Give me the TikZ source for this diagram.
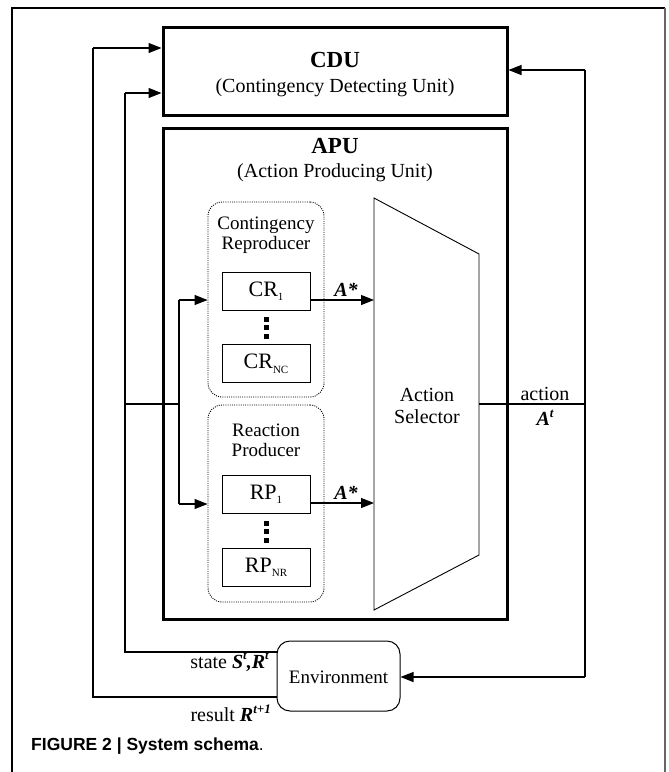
\documentclass[tikz,border=0pt]{standalone}
\usepackage{fontspec}
\setmainfont{Liberation Serif}
\newfontfamily\capfont{Liberation Sans}
\usetikzlibrary{arrows.meta}
\newcommand{\lowsub}[1]{\raisebox{-0.45ex}{\fontsize{11}{11}\selectfont #1}}
\newcommand{\bisup}[1]{\raisebox{0.9ex}{\fontsize{13}{13}\selectfont\bfseries\itshape #1}}
\newcommand{\bi}[1]{{\bfseries\itshape #1}}
\begin{document}
\begin{tikzpicture}[x=1pt,y=-1pt,
  txt/.style={font=\fontsize{20}{22}\selectfont, inner sep=0pt, align=center},
  ttl/.style={font=\fontsize{23}{24}\selectfont\bfseries, inner sep=0pt},
  unitbox/.style={draw, line width=3pt, inner sep=0pt},
  subbox/.style={draw, line width=1pt, inner sep=0pt, minimum width=88pt, minimum height=38pt, font=\fontsize{22}{22}\selectfont},
  groupbox/.style={draw, dash pattern=on 1pt off 1.2pt, line width=0.9pt, rounded corners=14pt, inner sep=0pt, minimum width=116pt},
  conn/.style={line width=1.1pt},
  arr/.style={line width=1.1pt, -{Triangle[length=13pt,width=10pt]}},
  dotsq/.style={fill=black, inner sep=0pt, minimum width=5pt, minimum height=5pt}
]
\useasboundingbox (0,0) rectangle (669,772);
% outer frame
\draw[line width=1.4pt] (12,772) -- (12,8) -- (665,8);
\draw[line width=1.6pt, black!60] (665,8) -- (665,772);

% CDU
\node[unitbox, minimum width=344pt, minimum height=88pt] (cdu) at (335,71) {};
\node[ttl] (cdut) at (335,59.5) {CDU};
\node[txt] (cdus) at (335,87.5) {(Contingency Detecting Unit)};

% APU
\node[unitbox, minimum width=344pt, minimum height=491pt] (apu) at (335,373.5) {};
\node[ttl] (aput) at (335,146) {APU};
\node[txt] (apus) at (335,172.5) {(Action Producing Unit)};

% Contingency reproducer group
\node[groupbox, minimum height=195pt] (crg) at (266,299.5) {};
\node[txt, font=\fontsize{19}{20}\selectfont] (crl) at (266,235) {Contingency\\Reproducer};
\node[subbox] (cr1) at (266,291) {CR\lowsub{1}};
\node[subbox] (crn) at (266,363.5) {CR\lowsub{NC}};
\node[dotsq] (crd1) at (266,319) {};
\node[dotsq] (crd2) at (266,327.5) {};
\node[dotsq] (crd3) at (266,336) {};

% Reaction producer group
\node[groupbox, minimum height=197pt] (rpg) at (266,503.5) {};
\node[txt, font=\fontsize{19}{20}\selectfont] (rpl) at (266,440) {Reaction\\Producer};
\node[subbox] (rp1) at (266,494.5) {RP\lowsub{1}};
\node[subbox] (rpn) at (266,567.5) {RP\lowsub{NR}};
\node[dotsq] (rpd1) at (266,523) {};
\node[dotsq] (rpd2) at (266,531.5) {};
\node[dotsq] (rpd3) at (266,540) {};

% Action selector
\draw[line width=0.9pt] (374,198) coordinate (asA) -- (479,254) coordinate (asB) -- (479,555) coordinate (asC) -- (374,610) coordinate (asD) -- cycle;
\node[txt] (asl) at (427,406) {Action\\Selector};

% Environment
\node[draw, line width=1pt, rounded corners=13pt, minimum width=123pt, minimum height=70pt, inner sep=0pt] (env) at (338.5,676) {};
\node[txt, font=\fontsize{19}{20}\selectfont] (envt) at (338.5,677) {Environment};

% coordinates
\coordinate (l1a) at (93,697);
\coordinate (l1b) at (93,48);
\coordinate (l2a) at (125,652);
\coordinate (l2b) at (125,93);
\coordinate (l2m) at (125,404);
\coordinate (br) at (179,404);
\coordinate (brt) at (179,300);
\coordinate (brb) at (179,504);
\coordinate (rt) at (585,70);
\coordinate (rm) at (585,404);
\coordinate (rb) at (585,677);

% feedback loops
\draw[conn] (env.west |- l1a) -- (l1a) -- (l1b);
\draw[arr] (l1b) -- (cdu.west |- l1b);
\draw[conn] (env.west |- l2a) -- (l2a) -- (l2b);
\draw[arr] (l2b) -- (cdu.west |- l2b);
\draw[conn] (l2m) -- (br);
\draw[conn] (brt) -- (brb);
\draw[arr] (brt) -- (crg.west |- brt);
\draw[arr] (brb) -- (rpg.west |- brb);

% A* arrows
\draw[arr] (cr1.east |- brt) -- (asA |- brt);
\draw[arr] (rp1.east |- 0,503) -- (asA |- 0,503);
\node[txt, font=\fontsize{20}{20}\selectfont\bfseries\itshape] (as1) at (346,290) {A*};
\node[txt, font=\fontsize{20}{20}\selectfont\bfseries\itshape] (as2) at (346,493) {A*};

% action output
\draw[conn] (asB |- rm) -- (rm);
\draw[conn] (rt) -- (rb);
\draw[arr] (rt) -- (cdu.east |- rt);
\draw[arr] (rb) -- (env.east |- rb);
\node[txt] (actl) at (545,394) {action};
\node[txt] (actv) at (545,418) {\bi{A}\bisup{t}};

% environment labels
\node[txt, anchor=east] (stl) at (269,662) {state \bi{S}\bisup{t}\bi{,R}\bisup{t}};
\node[txt, anchor=east] (rsl) at (271,713) {result \bi{R}\bisup{t+1}};

% caption
\node[anchor=west, inner sep=0pt, font=\capfont\fontsize{17.5}{19}\selectfont] (cap) at (31,746) {\bfseries FIGURE 2 | System schema\mdseries .};
\end{tikzpicture}
\end{document}
